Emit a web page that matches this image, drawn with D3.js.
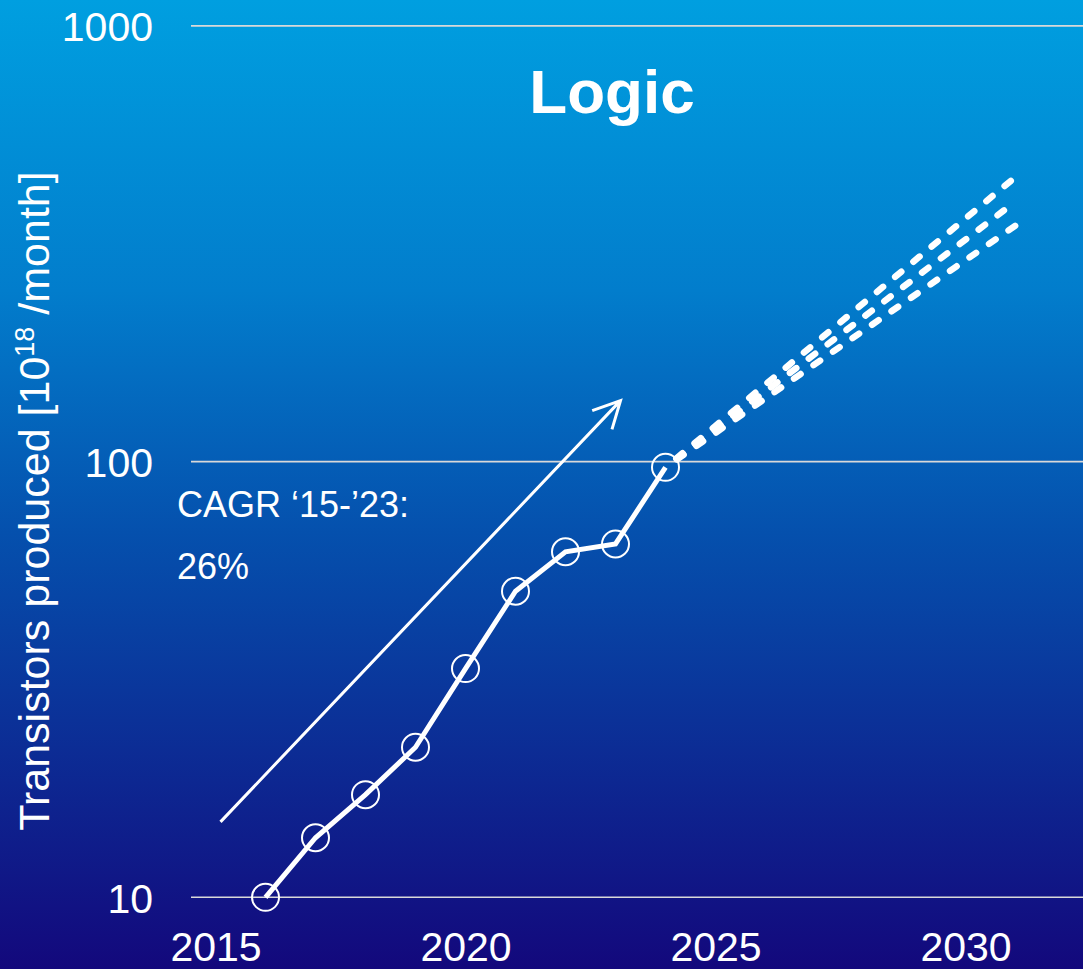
<!DOCTYPE html>
<html>
<head>
<meta charset="utf-8">
<script src="https://cdn.jsdelivr.net/npm/d3@7"></script>
<style>
  html, body { margin: 0; padding: 0; background: #0a2a9a; }
  svg { display: block; }
  text { font-family: "Liberation Sans", Arial, sans-serif; fill: #ffffff; }
</style>
</head>
<body>
<svg id="chart" width="1083" height="969"></svg>
<script>
// Logic transistor output, 10^18 per month
const years = [2016, 2017, 2018, 2019, 2020, 2021, 2022, 2023, 2024];
const produced = [10, 13.7, 17.2, 22.1, 33.5, 50.4, 62.1, 64.7, 97.0];

// Projection scenarios 2024 -> 2031
const projYears = [2024, 2031];
const projHigh = [97.0, 450];
const projMid = [97.0, 395];
const projLow = [97.0, 348];

// Growth arrow (start, tip) in data units
const arrowYears = [2015.1, 2023.1];
const arrowValues = [14.9, 138];

const yTicks = [10, 100, 1000];
const xTicks = [2015, 2020, 2025, 2030];

const titleText = "Logic";
const yTitle = "Transistors produced [10";
const yTitleSup = "18";
const yTitleEnd = " /month]";
const cagrLines = ["CAGR \u201815-\u201923:", "26%"];

const W = 1083, H = 969;
const svg = d3.select("#chart");

// background gradient
const defs = svg.append("defs");
const grad = defs.append("linearGradient")
  .attr("id", "bg").attr("x1", 0).attr("y1", 0).attr("x2", 0).attr("y2", 1);
grad.append("stop").attr("offset", "0%").attr("stop-color", "#009fe0");
grad.append("stop").attr("offset", "30%").attr("stop-color", "#027dcc");
grad.append("stop").attr("offset", "55%").attr("stop-color", "#0550ad");
grad.append("stop").attr("offset", "100%").attr("stop-color", "#13087c");
svg.append("rect").attr("width", W).attr("height", H).attr("fill", "url(#bg)");

const x = d3.scaleLinear().domain([2015, 2030]).range([215.5, 965.5]);
const y = d3.scaleLog().domain([10, 1000]).range([897.3, 25.9]);

// horizontal gridlines
svg.append("g").selectAll("line").data(yTicks).join("line")
  .attr("x1", 191).attr("x2", W)
  .attr("y1", d => y(d)).attr("y2", d => y(d))
  .attr("stroke", "#d9d9d9").attr("stroke-width", 1.6);

// y tick labels
const yAxis = d3.axisLeft(y).tickValues(yTicks).tickFormat(d3.format("d")).tickSize(0).tickPadding(0);
const gy = svg.append("g").attr("transform", "translate(153,0)").call(yAxis);
gy.select(".domain").remove();
gy.selectAll("text")
  .attr("font-size", 41).attr("fill", "#fff")
  .attr("font-family", "Liberation Sans, Arial, sans-serif")
  .attr("dy", "0.36em");

// x tick labels
const xAxis = d3.axisBottom(x).tickValues(xTicks).tickFormat(d3.format("d")).tickSize(0).tickPadding(0);
const gx = svg.append("g").attr("transform", "translate(0,961)").call(xAxis);
gx.select(".domain").remove();
gx.selectAll("text")
  .attr("font-size", 41).attr("fill", "#fff")
  .attr("font-family", "Liberation Sans, Arial, sans-serif")
  .attr("dy", 0).attr("y", 0);

// title
svg.append("text").attr("x", 612).attr("y", 113)
  .attr("text-anchor", "middle").attr("font-size", 62).attr("font-weight", "bold")
  .text(titleText);

// y axis title
const yt = svg.append("text")
  .attr("transform", "translate(49,501) rotate(-90)")
  .attr("text-anchor", "middle").attr("font-size", 43);
yt.append("tspan").text(yTitle);
yt.append("tspan").attr("font-size", 27).attr("dy", -15).text(yTitleSup);
yt.append("tspan").attr("dy", 15).text(yTitleEnd);

// CAGR annotation
svg.append("g").selectAll("text").data(cagrLines).join("text")
  .attr("x", 177).attr("y", (d, i) => 517 + i * 62)
  .attr("font-size", 36).text(d => d);

// growth arrow
const ax0 = x(arrowYears[0]), ay0 = y(arrowValues[0]);
const ax1 = x(arrowYears[1]), ay1 = y(arrowValues[1]);
const ang = Math.atan2(ay0 - ay1, ax0 - ax1);
const headLen = 30, spread = 27 * Math.PI / 180;
const arrowPath = d3.path();
arrowPath.moveTo(ax0, ay0);
arrowPath.lineTo(ax1, ay1);
arrowPath.moveTo(ax1 + headLen * Math.cos(ang + spread), ay1 + headLen * Math.sin(ang + spread));
arrowPath.lineTo(ax1, ay1);
arrowPath.lineTo(ax1 + headLen * Math.cos(ang - spread), ay1 + headLen * Math.sin(ang - spread));
svg.append("path").attr("d", arrowPath.toString())
  .attr("fill", "none").attr("stroke", "#fff").attr("stroke-width", 3)
  .attr("stroke-linejoin", "miter");

// projection lines
const projLine = d3.line().x(d => x(d[0])).y(d => y(d[1]));
[projHigh, projMid, projLow].forEach(vals => {
  svg.append("path")
    .attr("d", projLine(projYears.map((yr, i) => [yr, vals[i]])))
    .attr("fill", "none").attr("stroke", "#fff").attr("stroke-width", 6.5)
    .attr("stroke-linecap", "round").attr("stroke-dasharray", "8,15.7")
    .attr("stroke-dashoffset", -14);
});

// historical series
const histLine = d3.line().x(d => x(d[0])).y(d => y(d[1]));
const hist = years.map((yr, i) => [yr, produced[i]]);
svg.append("path").attr("d", histLine(hist))
  .attr("fill", "none").attr("stroke", "#fff").attr("stroke-width", 5);

svg.append("g").selectAll("circle").data(hist).join("circle")
  .attr("cx", d => x(d[0])).attr("cy", d => y(d[1])).attr("r", 13.5)
  .attr("fill", "none").attr("stroke", "#fff").attr("stroke-width", 2);
</script>
</body>
</html>
